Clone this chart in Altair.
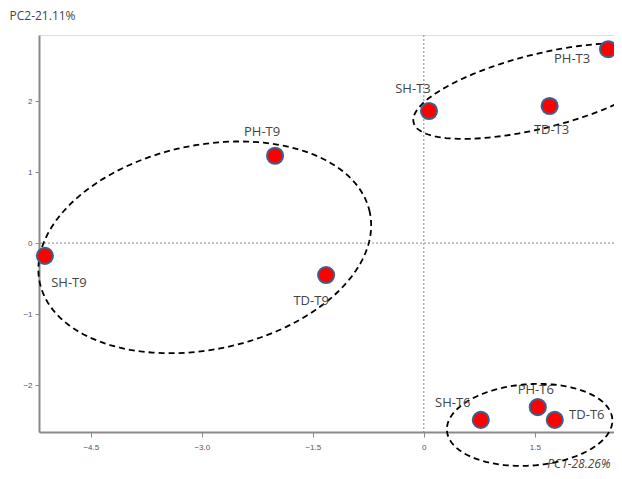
import altair as alt
import numpy as np
import pandas as pd

# ---- data ----
LABELS = ["SH-T9", "PH-T9", "TD-T9", "SH-T3", "TD-T3", "PH-T3", "SH-T6", "PH-T6", "TD-T6"]
PC1 = [-5.12, -2.01, -1.32, 0.07, 1.70, 2.49, 0.77, 1.54, 1.77]
PC2 = [-0.18, 1.23, -0.45, 1.86, 1.93, 2.73, -2.49, -2.31, -2.49]

X_TICKS = [-4.5, -3.0, -1.5, 0, 1.5]
Y_TICKS = [-2, -1, 0, 1, 2]
X_DOMAIN = [-5.2, 2.57]
Y_DOMAIN = [-2.66, 2.93]

# group ellipses (centre, semi-axes in PC1 units, tilt in degrees)
ELL_GROUP = ["T9", "T3", "T6"]
ELL_CX = [-2.96, 1.57, 1.43]
ELL_CY = [-0.06, 2.14, -2.56]
ELL_A = [2.28, 1.76, 1.12]
ELL_B = [1.38, 0.50, 0.55]
ELL_ANGLE = [12, 14, 4]

X_TITLE = "PC1-28.26%"
Y_TITLE = "PC2-21.11%"

# ---- layout / style ----
W, H = 575, 397
PAD = {"left": 31, "top": 27, "right": 0, "bottom": 40}
LABEL_OFFSETS = {
    "SH-T9": (24, 27), "PH-T9": (-13, -24), "TD-T9": (-15, 26),
    "SH-T3": (-16, -22), "TD-T3": (2, 24), "PH-T3": (-36, 10),
    "SH-T6": (-28, -17), "PH-T6": (-2, -17), "TD-T6": (32, -5),
}

pts = pd.DataFrame({"x": PC1, "y": PC2, "label": LABELS})

# ellipse outlines
px_x = W / (X_DOMAIN[1] - X_DOMAIN[0])
px_y = H / (Y_DOMAIN[1] - Y_DOMAIN[0])
rows = []
t = np.linspace(0, 2 * np.pi, 181)
for g, cx, cy, a, b, ang in zip(ELL_GROUP, ELL_CX, ELL_CY, ELL_A, ELL_B, ELL_ANGLE):
    th = np.deg2rad(ang)
    u, v = a * np.cos(t), b * np.sin(t)
    dx = u * np.cos(th) - v * np.sin(th)
    dy = u * np.sin(th) + v * np.cos(th)
    for i, (ex, ey) in enumerate(zip(cx + dx, cy + dy * px_x / px_y)):
        rows.append({"g": g, "i": i, "x": ex, "y": ey})
ell = pd.DataFrame(rows)

xenc = alt.X("x:Q", scale=alt.Scale(domain=X_DOMAIN, nice=False, zero=False),
             axis=alt.Axis(values=X_TICKS, title=X_TITLE, grid=False,
                           labelExpr="datum.value == 0 ? '0' : format(datum.value, '.1f')",
                           labelFontSize=8, labelColor="#555", labelPadding=6,
                           domainColor="#8a8a8a", domainWidth=2,
                           tickColor="#8a8a8a", tickSize=5,
                           titleAnchor="end", titleAlign="right", titleX=W - 4, titleY=31,
                           titleBaseline="middle",
                           titleFontSize=12, titleFontWeight="normal", titleFontStyle="italic",
                           titleColor="#444", titleFont="Open Sans"))
yenc = alt.Y("y:Q", scale=alt.Scale(domain=Y_DOMAIN, nice=False, zero=False),
             axis=alt.Axis(values=Y_TICKS, title=Y_TITLE, grid=False,
                           labelFontSize=8, labelColor="#5a4d6a", labelPadding=3,
                           domainColor="#8a8a8a", domainWidth=2,
                           tickColor="#8a8a8a", tickSize=4,
                           titleAngle=0, titleX=-30, titleY=-20, titleAlign="left",
                           titleBaseline="middle",
                           titleFontSize=12, titleFontWeight="normal",
                           titleColor="#444", titleFont="Open Sans"))

zero = pd.DataFrame({"x": [0.0], "y": [0.0]})
vrule = alt.Chart(zero).mark_rule(color="#888", strokeDash=[2, 2], strokeWidth=1).encode(x=xenc)
hrule = alt.Chart(zero).mark_rule(color="#888", strokeDash=[2, 2], strokeWidth=1).encode(y=yenc)

ellipses = alt.Chart(ell).mark_line(color="black", strokeDash=[6, 4], strokeWidth=1.8,
                                    clip=False).encode(
    x=xenc, y=yenc, detail="g:N", order="i:Q")

points = alt.Chart(pts).mark_circle(size=260, color="#ff0000", opacity=1,
                                    stroke="#3d5f8c", strokeWidth=2).encode(x=xenc, y=yenc)

texts = []
for lab in LABELS:
    dx, dy = LABEL_OFFSETS[lab]
    texts.append(
        alt.Chart(pts).transform_filter(alt.datum.label == lab).mark_text(
            dx=dx, dy=dy, fontSize=13, font="Open Sans", color="#444",
            align="center", baseline="middle").encode(x=xenc, y=yenc, text="label:N"))

chart = alt.layer(vrule, hrule, ellipses, points, *texts).properties(
    width=W, height=H, autosize=alt.AutoSizeParams(type="none"), padding=PAD,
).configure_view(stroke="#aaaaaa", strokeWidth=1.5).configure(background="white")

chart.save("out.html", embed_options={"renderer": "svg", "actions": False})
